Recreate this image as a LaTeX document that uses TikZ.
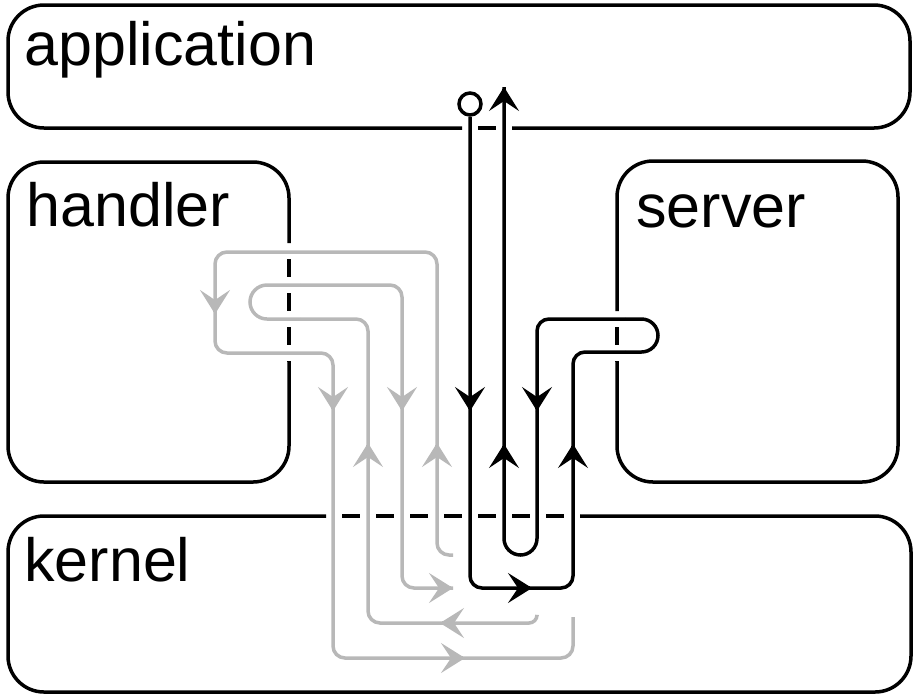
\documentclass[tikz,border=0pt]{standalone}
\usepackage{fontspec}
\setmainfont{Liberation Sans}
\usetikzlibrary{arrows.meta}
\definecolor{sig}{gray}{0.72}
\begin{document}
\begin{tikzpicture}[x=0.5pt,y=-0.5pt,
	bx/.style={draw,line width=1.75pt,rounded corners=18pt},
	gp/.style={draw,line width=1.75pt,dash pattern=on 9pt off 8pt,dash phase=9pt},
	lbl/.style={anchor=base west,inner sep=0pt,font=\fontsize{30.5}{36}\selectfont},
	fl/.style={line width=1.75pt,rounded corners=6pt},
	tp/.style={line width=1.75pt,-{Stealth[length=12pt,width=15pt,inset=5pt,line width=1pt]}},
	port/.style={draw,circle,line width=1.75pt,minimum size=11pt,inner sep=0pt}]
	\useasboundingbox (0,0) rectangle (915,698);

	% the four boxes, dashed where the flows pass through
	\draw[bx] (512,128) -- (910,128) -- (910,5) -- (8,5) -- (8,128) -- (462,128);
	\draw[gp] (462,128) -- (512,128);
	\draw[bx] (289,362) -- (289,482) -- (8,482) -- (8,162) -- (289,162) -- (289,243);
	\draw[gp] (289,243) -- (289,362);
	\draw[bx] (617,362) -- (617,482) -- (898,482) -- (898,161) -- (617,161) -- (617,311);
	\draw[gp] (617,311) -- (617,362);
	\draw[bx] (580,516) -- (911,516) -- (911,692) -- (8,692) -- (8,516) -- (326,516);
	\draw[gp] (326,516) -- (580,516);

	\node[lbl] (app) at (24,65) {application};
	\node[lbl] (hnd) at (26,226) {handler};
	\node[lbl] (srv) at (636,227) {server};
	\node[lbl] (krn) at (24,581) {kernel};

	% call into the kernel, out to the server and back
	\node[port] (call) at (470,104) {};
	\coordinate (b1) at (470,411);
	\coordinate (b2) at (532,588);
	\coordinate (kb) at (573,588);
	\coordinate (b3) at (573,444);
	\coordinate (s1) at (625,352);
	\coordinate (s2) at (658,319);
	\coordinate (s3) at (625,319);
	\coordinate (b4) at (537,411);
	\coordinate (u1) at (504,555);
	\coordinate (b5) at (504,444);
	\coordinate (ret) at (504,87);
	\draw[fl] (call) |- (kb) |- (s1);
	\draw[fl,rounded corners=8.25pt] (s1) -| (s2) -- (s3);
	\draw[fl] (s3) -| (b4);
	\draw[fl,rounded corners=8.25pt] (b4) |- (u1) -- (ret);
	\draw[tp] (b1) ++(0,-2) -- (b1);
	\draw[tp] (b2) ++(-2,0) -- (b2);
	\draw[tp] (b3) ++(0,2) -- (b3);
	\draw[tp] (b4) ++(0,-2) -- (b4);
	\draw[tp] (b5) ++(0,2) -- (b5);
	\draw[tp] (ret) ++(0,2) -- (ret);

	% outer signal path through the handler
	\begin{scope}[sig]
	\coordinate (a0) at (453,555);
	\coordinate (h0) at (437,252);
	\coordinate (a1) at (437,443);
	\coordinate (a2) at (215,314);
	\coordinate (h1) at (215,353);
	\coordinate (a3) at (333,411);
	\coordinate (h2) at (333,658);
	\coordinate (a4) at (465,658);
	\coordinate (a5) at (573,617);
	\draw[fl] (a0) -| (h0) -| (h1) -| (h2) -| (a5);
	\draw[tp] (a1) ++(0,2) -- (a1);
	\draw[tp] (a2) ++(0,-2) -- (a2);
	\draw[tp] (a3) ++(0,-2) -- (a3);
	\draw[tp] (a4) ++(-2,0) -- (a4);

	% inner signal path
	\coordinate (c0) at (537,616);
	\coordinate (c1) at (440,623);
	\coordinate (c2) at (368,443);
	\coordinate (h3) at (300,319);
	\coordinate (h4) at (250,285);
	\coordinate (h5) at (300,285);
	\coordinate (c3) at (402,411);
	\coordinate (c4) at (453,588);
	\draw[fl,rounded corners=4pt] (c0) |- (c1);
	\draw[fl] (c1) -| (c2) |- (h3);
	\draw[fl,rounded corners=8.5pt] (h3) -| (h4) -- (h5);
	\draw[fl] (h5) -| (c3) |- (c4);
	\draw[tp] (c1) ++(2,0) -- (c1);
	\draw[tp] (c2) ++(0,2) -- (c2);
	\draw[tp] (c3) ++(0,-2) -- (c3);
	\draw[tp] (c4) ++(-2,0) -- (c4);
	\end{scope}
\end{tikzpicture}
\end{document}
